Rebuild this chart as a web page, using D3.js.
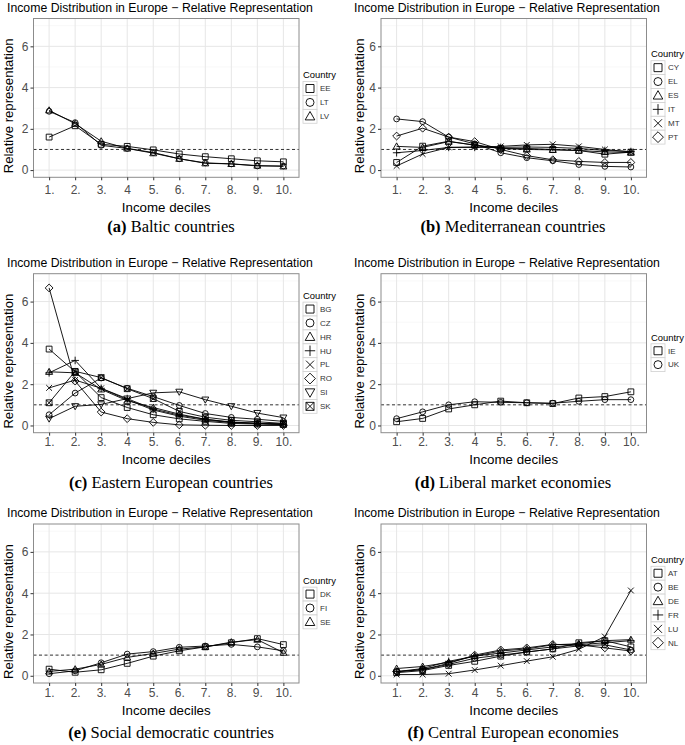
<!DOCTYPE html>
<html><head><meta charset="utf-8">
<script src="https://cdn.jsdelivr.net/npm/d3@7"></script>
<style>body{margin:0;background:#fff} svg{display:block}</style>
</head><body>
<svg id="chart" width="685" height="745"></svg>
<script>
// ---------- data ----------
const deciles = [1,2,3,4,5,6,7,8,9,10];
const xTickLabels = ["1.","2.","3.","4","5.","6.","7.","8.","9.","10."];
const yTicks = [0,2,4,6];
const yMinorTicks = [1,3,5,7];
const titleText = "Income Distribution in Europe \u2212 Relative Representation";
const yLabelText = "Relative representation";
const xLabelText = "Income deciles";
const legendTitle = "Country";

const balticCountries = ["EE","LT","LV"];
const balticValues = [
  [1.6,2.15,1.25,1.15,0.98,0.78,0.65,0.55,0.45,0.4],
  [2.85,2.3,1.2,1.05,0.85,0.55,0.35,0.3,0.2,0.2],
  [2.9,2.25,1.4,1.05,0.82,0.55,0.33,0.3,0.22,0.18]
];
const medCountries = ["CY","EL","ES","IT","MT","PT"];
const medValues = [
  [0.37,1.16,1.4,1.2,1.05,1.05,1.0,0.95,0.77,0.87],
  [2.48,2.35,1.6,1.27,0.84,0.6,0.45,0.27,0.18,0.15],
  [1.15,1.1,1.38,1.22,1.05,1.0,0.98,0.95,0.88,0.85],
  [0.84,0.95,1.1,1.1,1.1,1.12,1.1,1.05,0.95,0.9],
  [0.2,0.78,1.1,1.12,1.15,1.22,1.25,1.15,1.0,0.88],
  [1.65,2.03,1.6,1.38,1.0,0.7,0.5,0.42,0.37,0.37]
];
const eastCountries = ["BG","CZ","HR","HU","PL","RO","SI","SK"];
const eastValues = [
  [3.7,2.6,1.35,0.87,0.52,0.32,0.2,0.1,0.07,0.05],
  [0.52,1.57,2.3,1.8,1.4,0.97,0.58,0.39,0.3,0.2],
  [2.6,2.55,1.75,1.2,0.87,0.55,0.3,0.17,0.1,0.05],
  [2.55,3.15,1.8,1.3,0.8,0.5,0.3,0.15,0.1,0.05],
  [1.82,2.2,1.8,1.25,0.75,0.45,0.25,0.15,0.1,0.08],
  [6.66,2.15,0.65,0.33,0.15,0.03,0.01,0.0,0.0,0.0],
  [0.33,0.93,1.02,1.3,1.58,1.63,1.25,0.93,0.6,0.38],
  [1.1,2.62,2.32,1.78,1.3,0.68,0.4,0.25,0.18,0.1]
];
const liberalCountries = ["IE","UK"];
const liberalValues = [
  [0.18,0.34,0.8,1.0,1.18,1.1,1.06,1.33,1.4,1.63],
  [0.33,0.66,1.0,1.15,1.12,1.1,1.08,1.17,1.25,1.25]
];
const socialCountries = ["DK","FI","SE"];
const socialValues = [
  [0.32,0.17,0.29,0.6,0.95,1.21,1.4,1.6,1.8,1.51],
  [0.1,0.24,0.63,1.05,1.17,1.38,1.44,1.52,1.4,1.21],
  [0.21,0.32,0.55,0.89,1.08,1.29,1.4,1.63,1.75,1.12]
];
const centralCountries = ["AT","BE","DE","FR","LU","NL"];
const centralValues = [
  [0.15,0.25,0.5,0.7,0.95,1.15,1.3,1.6,1.7,1.4],
  [0.2,0.3,0.55,0.85,1.0,1.15,1.3,1.45,1.5,1.25],
  [0.35,0.45,0.65,0.95,1.2,1.3,1.5,1.55,1.7,1.75],
  [0.2,0.35,0.7,0.95,1.1,1.25,1.4,1.5,1.6,1.7],
  [0.06,0.06,0.1,0.28,0.49,0.71,0.92,1.28,1.9,4.13],
  [0.2,0.3,0.6,1.0,1.25,1.35,1.52,1.5,1.35,1.2]
];
const captionLetters = ["(a)","(b)","(c)","(d)","(e)","(f)"];
const captionTexts = ["Baltic countries","Mediterranean countries","Eastern European countries",
  "Liberal market economies","Social democratic countries","Central European economies"];

const panels = [
  {countries: balticCountries, values: balticValues},
  {countries: medCountries, values: medValues},
  {countries: eastCountries, values: eastValues},
  {countries: liberalCountries, values: liberalValues},
  {countries: socialCountries, values: socialValues},
  {countries: centralCountries, values: centralValues}
];

// ---------- layout ----------
const cols = [
  {left: 33.5, right: 299, colCenter: 171, titleX: 7, yLabX: 8, legX: 303},
  {left: 381, right: 646.5, colCenter: 513, titleX: 354, yLabX: 359, legX: 651}
];
const rows = [
  {top: 18.5, bottom: 177.3, tickOff: 12.5, xLabOff: 30.5, capOff: 49},
  {top: 273.7, bottom: 432.7, tickOff: 9.5, xLabOff: 26.5, capOff: 50},
  {top: 524, bottom: 683, tickOff: 9.5, xLabOff: 27, capOff: 49}
];
const shapeOrder = ["square","circle","triangle","plus","cross","diamond","triangleDown","squareCross"];

function shapePath(type, s) {
  switch (type) {
    case "square": return `M${-s},${-s}H${s}V${s}H${-s}Z`;
    case "circle": return `M${s},0A${s},${s} 0 1 1 ${-s},0A${s},${s} 0 1 1 ${s},0Z`;
    case "triangle": { const a=s*1.2; return `M0,${-a}L${a},${a*0.75}L${-a},${a*0.75}Z`; }
    case "triangleDown": { const a=s*1.2; return `M0,${a}L${a},${-a*0.75}L${-a},${-a*0.75}Z`; }
    case "plus": { const a=s*1.3; return `M${-a},0H${a}M0,${-a}V${a}`; }
    case "cross": return `M${-s},${-s}L${s},${s}M${-s},${s}L${s},${-s}`;
    case "diamond": { const a=s*1.35; return `M0,${-a}L${a},0L0,${a}L${-a},0Z`; }
    case "squareCross": return `M${-s},${-s}H${s}V${s}H${-s}ZM${-s},${-s}L${s},${s}M${-s},${s}L${s},${-s}`;
  }
}

const svg = d3.select("#chart");
const FONT = "'Liberation Sans', Arial, Helvetica, sans-serif";
const SERIF = "'Liberation Serif', 'Times New Roman', serif";

function fit(sel, base, target) {
  sel.attr("font-size", base);
  const w = sel.node().getComputedTextLength();
  sel.attr("font-size", base * target / w);
}

panels.forEach((p, i) => {
  const col = cols[i % 2], row = rows[Math.floor(i / 2)];
  const g = svg.append("g");
  const x = d3.scaleLinear().domain([0.4, 10.6]).range([col.left, col.right]);
  const y = d3.scaleLinear().domain([-0.35, 7.35]).range([row.bottom, row.top]);

  g.append("rect").attr("x", col.left).attr("y", row.top)
    .attr("width", col.right - col.left).attr("height", row.bottom - row.top).attr("fill", "#fff");
  g.selectAll(".ymin").data(yMinorTicks).join("line")
    .attr("x1", col.left).attr("x2", col.right).attr("y1", d => y(d)).attr("y2", d => y(d))
    .attr("stroke", "#f3f3f3").attr("stroke-width", 0.6);
  g.selectAll(".ymaj").data(yTicks).join("line")
    .attr("x1", col.left).attr("x2", col.right).attr("y1", d => y(d)).attr("y2", d => y(d))
    .attr("stroke", "#e6e6e6").attr("stroke-width", 1);
  g.selectAll(".xmaj").data(deciles).join("line")
    .attr("x1", d => x(d)).attr("x2", d => x(d)).attr("y1", row.top).attr("y2", row.bottom)
    .attr("stroke", "#e6e6e6").attr("stroke-width", 1);

  g.append("line").attr("x1", col.left).attr("x2", col.right).attr("y1", y(1)).attr("y2", y(1))
    .attr("stroke", "#333").attr("stroke-width", 1).attr("stroke-dasharray", "3,2.5");

  const line = d3.line().x((d, j) => x(deciles[j])).y(d => y(d));
  p.values.forEach((vals) => {
    g.append("path").attr("d", line(vals)).attr("fill", "none")
      .attr("stroke", "#000").attr("stroke-width", 0.9);
  });
  p.values.forEach((vals, k) => {
    g.selectAll(null).data(vals).join("path")
      .attr("transform", (d, j) => `translate(${x(deciles[j])},${y(d)})`)
      .attr("d", shapePath(shapeOrder[k], 2.9))
      .attr("fill", "none").attr("stroke", "#000").attr("stroke-width", 0.9);
  });

  g.append("rect").attr("x", col.left).attr("y", row.top)
    .attr("width", col.right - col.left).attr("height", row.bottom - row.top)
    .attr("fill", "none").attr("stroke", "#8c8c8c").attr("stroke-width", 1);

  const yAxis = d3.axisLeft(y).tickValues(yTicks).tickSize(3).tickPadding(2).tickFormat(d3.format("d"));
  const ya = g.append("g").attr("transform", `translate(${col.left},0)`).call(yAxis);
  ya.select(".domain").remove();
  ya.selectAll("line").attr("stroke", "#333");
  ya.selectAll("text").attr("font-family", FONT).attr("font-size", 12).attr("fill", "#4d4d4d");

  const xAxis = d3.axisBottom(x).tickValues(deciles).tickSize(3).tickPadding(0)
    .tickFormat((d, j) => xTickLabels[j]);
  const xa = g.append("g").attr("transform", `translate(0,${row.bottom})`).call(xAxis);
  xa.select(".domain").remove();
  xa.selectAll("line").attr("stroke", "#333");
  xa.selectAll("text").attr("font-family", FONT).attr("font-size", 12).attr("fill", "#4d4d4d")
    .attr("y", row.tickOff).attr("dy", "0.35em");

  const t = g.append("text").attr("x", col.titleX).attr("y", row.top - 7)
    .attr("font-family", FONT).attr("fill", "#000").text(titleText);
  fit(t, 12, 306);

  const yc = (row.top + row.bottom) / 2 + 8;
  const yl = g.append("text").attr("transform", `translate(${col.yLabX},${yc}) rotate(-90)`)
    .attr("text-anchor", "middle").attr("dy", "0.35em").attr("font-family", FONT).attr("fill", "#000")
    .text(yLabelText);
  fit(yl, 13, 135);

  const xl = g.append("text").attr("x", (col.left + col.right) / 2).attr("y", row.bottom + row.xLabOff)
    .attr("text-anchor", "middle").attr("dy", "0.35em").attr("font-family", FONT).attr("fill", "#000")
    .text(xLabelText);
  fit(xl, 13, 89);

  const cap = g.append("text").attr("x", col.colCenter).attr("y", row.bottom + row.capOff)
    .attr("text-anchor", "middle").attr("dy", "0.35em").attr("font-family", SERIF)
    .attr("font-size", 16.5).attr("fill", "#000");
  cap.append("tspan").attr("font-weight", "bold").text(captionLetters[i]);
  cap.append("tspan").text(" " + captionTexts[i]);

  const n = p.countries.length, keyH = 13.9, titleH = 13;
  const H = titleH + n * keyH;
  const top = (row.top + row.bottom) / 2 - H / 2 - 2;
  const lt = g.append("text").attr("x", col.legX).attr("y", top + titleH / 2).attr("dy", "0.35em")
    .attr("font-family", FONT).attr("fill", "#000").text(legendTitle);
  fit(lt, 10, 33);
  p.countries.forEach((c, k) => {
    const cy = top + titleH + keyH / 2 + k * keyH;
    g.append("rect").attr("x", col.legX).attr("y", cy - keyH / 2).attr("width", 14).attr("height", keyH)
      .attr("fill", "#fff").attr("stroke", "#d0d0d0").attr("stroke-width", 0.8);
    g.append("path").attr("transform", `translate(${col.legX + 7},${cy})`)
      .attr("d", shapePath(shapeOrder[k], 4)).attr("fill", "none").attr("stroke", "#000").attr("stroke-width", 0.9);
    g.append("text").attr("x", col.legX + 17).attr("y", cy).attr("dy", "0.35em")
      .attr("font-family", FONT).attr("font-size", 8).attr("fill", "#333").text(c);
  });
});
</script>
</body></html>
